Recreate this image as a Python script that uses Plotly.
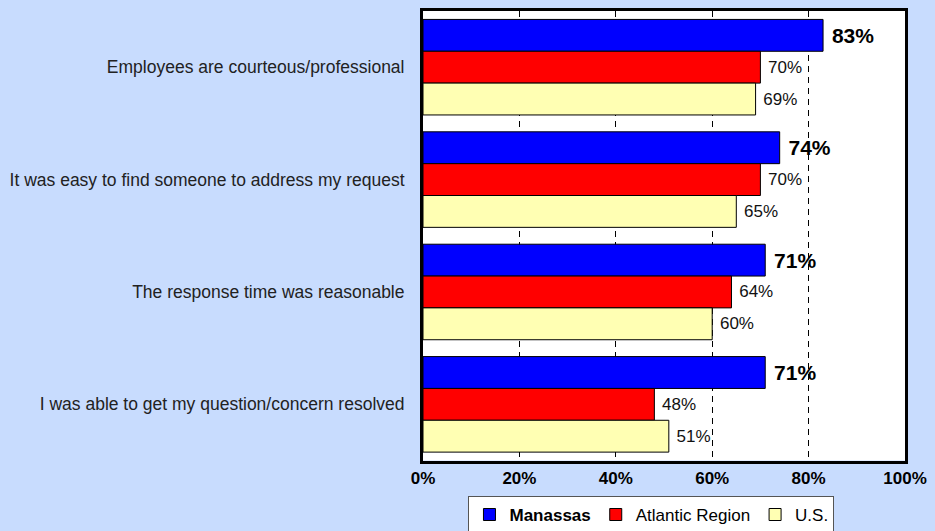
import plotly.graph_objects as go

## Survey results, share of favourable answers (%)
questions = [
    'Employees are courteous/professional',
    'It was easy to find someone to address my request',
    'The response time was reasonable',
    'I was able to get my question/concern resolved',
]
manassas = [83, 74, 71, 71]
atlantic = [70, 70, 64, 48]
us = [69, 65, 60, 51]

x_ticks = [0, 20, 40, 60, 80, 100]

bg = '#C8DCFE'
font_family = 'Arial, Liberation Sans, sans-serif'

series = [
    ('<b>Manassas</b>', manassas, '#0000FF', dict(size=21, color='black', family=font_family, weight='bold')),
    ('Atlantic Region', atlantic, '#FF0000', dict(size=17, color='#111111', family=font_family)),
    ('U.S.', us, '#FFFFB3', dict(size=17, color='#111111', family=font_family)),
]

fig = go.Figure()
for name, vals, color, tfont in series:
    fig.add_trace(go.Bar(
        name=name,
        y=questions,
        x=vals,
        orientation='h',
        marker=dict(color=color, line=dict(color='black', width=1)),
        text=[f' {v}%' for v in vals],
        texttemplate='%{text}',
        textposition='outside',
        textfont=tfont,
        constraintext='none',
        cliponaxis=False,
        hoverinfo='skip',
    ))

fig.update_layout(
    width=935,
    height=531,
    margin=dict(l=423, r=27, t=8, b=69),
    paper_bgcolor=bg,
    plot_bgcolor='white',
    barmode='group',
    bargap=0.15,
    bargroupgap=0,
    font=dict(family=font_family, size=17, color='#222222'),
    legend=dict(
        orientation='h',
        x=0.474, xanchor='center',
        yref='container',
        y=0.066, yanchor='top',
        bgcolor='white',
        bordercolor='#555555',
        borderwidth=1,
        font=dict(size=17, color='black'),
        traceorder='normal',
        itemclick=False,
    ),
)

fig.update_xaxes(
    range=[0, 100],
    tickvals=x_ticks,
    ticktext=[f'{t}%' for t in x_ticks],
    tickfont=dict(size=17, color='black', weight='bold'),
    showgrid=True,
    gridcolor='black',
    gridwidth=1,
    griddash='6px,5px',
    zeroline=False,
    showline=True,
    linecolor='black',
    linewidth=3,
    mirror=True,
    ticks='',
    ticklabelstandoff=0,
)
fig.update_yaxes(
    autorange='reversed',
    showgrid=False,
    showline=True,
    linecolor='black',
    linewidth=3,
    mirror=True,
    ticks='',
    ticklabelstandoff=12,
    tickfont=dict(size=17.5, color='#222222'),
)

# drop the page's default body margin so the chart sits at the window origin
fig.write_html('out.html', config={'displayModeBar': False},
               post_script="document.body.style.margin='0';")
